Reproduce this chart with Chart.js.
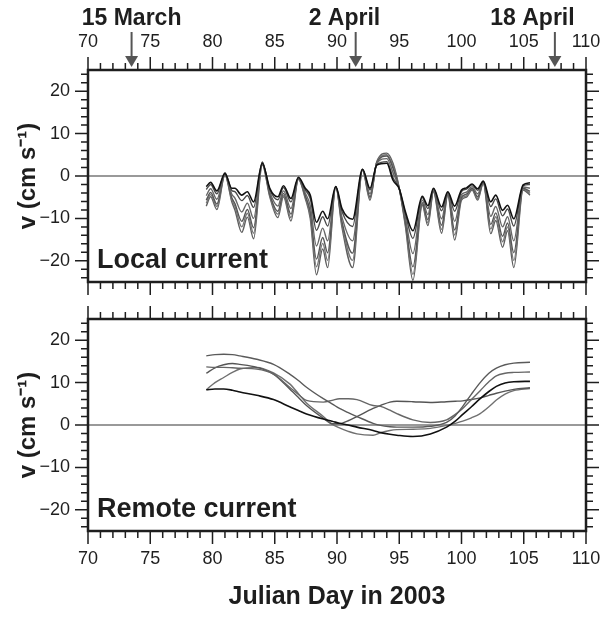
<!DOCTYPE html>
<html>
<head>
<meta charset="utf-8">
<script src="https://cdn.jsdelivr.net/npm/chart.js@4.4.1/dist/chart.umd.min.js"></script>
<style>
  html, body { margin: 0; padding: 0; background: #fff; }
  #wrap { position: relative; width: 605px; height: 619px; }
  .panel { position: absolute; left: 0; }
  #topBox { top: 0; }
  #botBox { top: 300px; }
</style>
</head>
<body>
<div id="wrap">
  <div class="panel" id="topBox"><canvas id="localChart" width="605" height="300"></canvas></div>
  <div class="panel" id="botBox"><canvas id="remoteChart" width="605" height="319"></canvas></div>
</div>
<script>
// ---- data ----
const xTicks = [70, 75, 80, 85, 90, 95, 100, 105, 110];
const yTicks = [-20, -10, 0, 10, 20];
const arrowDays = [73.5, 91.5, 107.5];
const dateLabels = ['15 March', '2 April', '18 April'];
const dateLabelDays = [73.5, 90.6, 105.7];

// local current, 6 series
const localDays = [79.5, 79.85, 80.35, 81.0, 81.55, 81.8, 82.35, 82.8, 83.3, 84.0, 84.6, 85.25, 85.7, 86.3, 86.9, 87.45, 87.85, 88.35, 88.85, 89.25, 89.9, 90.4, 91.25, 92.05, 92.65, 93.2, 94.0, 94.5, 95.0, 95.5, 96.1, 96.85, 97.3, 97.75, 98.4, 98.9, 99.45, 100.0, 100.4, 100.85, 101.3, 101.75, 102.35, 102.75, 103.3, 103.7, 104.2, 104.95, 105.5];
const local1 = [-2.5, -1.5, -3.5, 0.6, -2.9, -2.9, -4.5, -3.7, -6.1, 3.0, -2.9, -4.9, -2.3, -5.3, -0.3, -2.9, -4.5, -10.9, -8.3, -10.1, -2.5, -7.7, -10.2, 1.6, -2.9, 2.6, 3.0, -1.0, -3.0, -8.5, -12.9, -4.8, -7.0, -2.9, -7.3, -3.7, -7.1, -3.3, -2.8, -1.9, -3.0, -1.2, -6.1, -4.5, -8.1, -6.9, -10.1, -2.1, -1.6];
const local2 = [-3.2, -2.0, -4.2, 0.8, -3.4, -3.7, -5.8, -4.6, -7.4, 3.2, -3.2, -5.6, -2.7, -6.1, -0.4, -3.3, -5.3, -12.8, -9.6, -11.8, -2.5, -8.4, -11.9, 1.6, -3.3, 2.7, 3.4, -0.4, -3.0, -9.0, -14.7, -5.1, -7.7, -3.0, -8.2, -3.8, -8.3, -3.7, -3.1, -2.1, -3.4, -1.3, -7.2, -5.4, -9.4, -7.8, -11.8, -2.3, -2.0];
const local3 = [-4.6, -3.0, -5.5, 0.5, -4.3, -5.2, -8.5, -6.4, -10.0, 2.8, -3.8, -7.1, -3.5, -7.7, -0.5, -4.0, -7.0, -16.5, -12.3, -15.3, -2.5, -9.7, -15.3, 1.5, -4.2, 3.0, 4.1, 0.8, -3.0, -10.0, -18.3, -5.7, -9.1, -3.3, -10.1, -4.1, -10.7, -4.4, -3.8, -2.5, -4.2, -1.4, -9.5, -7.2, -12.0, -9.6, -15.3, -2.6, -2.9];
const local4 = [-5.7, -3.9, -6.6, 0.4, -5.1, -6.5, -10.7, -7.9, -12.2, 3.3, -4.3, -8.3, -4.1, -9.0, -0.6, -4.6, -8.4, -19.6, -14.5, -18.1, -2.5, -10.8, -18.2, 1.5, -4.9, 3.2, 4.7, 1.8, -2.9, -11.0, -21.4, -6.3, -10.3, -3.5, -11.6, -4.3, -12.7, -5.0, -4.3, -2.9, -4.9, -1.6, -11.4, -8.7, -14.2, -11.1, -18.1, -2.9, -3.6];
const local5 = [-6.4, -4.4, -7.2, 0.3, -5.6, -7.2, -12.0, -8.8, -13.5, 2.9, -4.6, -9.0, -4.5, -9.8, -0.7, -4.9, -9.2, -21.4, -15.9, -19.9, -2.5, -11.4, -19.9, 1.4, -5.3, 3.3, 5.0, 2.4, -2.9, -11.5, -23.2, -6.6, -11.0, -3.6, -12.6, -4.4, -13.9, -5.3, -4.7, -3.1, -5.3, -1.6, -12.5, -9.6, -15.5, -12.0, -19.9, -3.1, -4.1];
const local6 = [-7.1, -4.9, -7.9, 0.2, -6.1, -8.0, -13.3, -9.7, -14.8, 2.6, -4.9, -9.8, -4.9, -10.6, -0.8, -5.3, -10.0, -23.3, -17.2, -21.6, -2.5, -12.1, -21.6, 1.4, -5.7, 3.4, 5.4, 3.0, -2.9, -12.0, -24.6, -6.9, -11.7, -3.7, -13.5, -4.5, -15.1, -5.7, -5.0, -3.3, -5.7, -1.7, -13.6, -10.5, -16.8, -12.9, -21.6, -3.3, -4.5];

// remote current, 5 series
const remoteDays = [79.5, 80.2, 80.9, 81.6, 82.2, 83.55, 84.9, 86.2, 86.9, 87.55, 88.9, 89.6, 90.2, 90.9, 91.6, 92.9, 93.5, 94.25, 94.8, 96.1, 97.5, 98.8, 99.5, 100.1, 100.8, 101.5, 102.2, 102.8, 103.5, 104.2, 105.5];
const remote1 = [8.3, 8.5, 8.5, 8.2, 7.8, 7.0, 6.0, 4.3, 3.4, 2.6, 1.4, 0.9, 0.4, 0.0, -0.5, -1.3, -1.8, -2.2, -2.4, -2.7, -2.1, -0.5, 0.9, 2.5, 4.3, 6.2, 7.9, 9.1, 9.9, 10.2, 10.3];
const remote2 = [16.3, 16.6, 16.7, 16.6, 16.3, 15.5, 14.3, 12.0, 10.5, 8.9, 6.2, 5.0, 3.9, 2.9, 2.0, 0.4, -0.1, -0.4, -0.5, -0.5, -0.3, 0.6, 2.2, 4.4, 7.3, 10.0, 12.2, 13.4, 14.2, 14.6, 14.8];
const remote3 = [13.7, 13.6, 13.6, 13.5, 13.4, 13.2, 12.0, 8.9, 7.2, 5.8, 5.4, 5.8, 6.2, 6.2, 6.0, 4.6, 4.4, 3.5, 2.7, 1.2, 0.6, 1.2, 2.5, 3.9, 6.0, 8.1, 10.2, 11.6, 12.2, 12.4, 12.5];
const remote4 = [12.2, 13.5, 14.2, 14.5, 14.3, 13.6, 12.0, 8.5, 6.5, 4.6, 1.6, 0.3, 0.3, 1.0, 2.0, 3.9, 4.6, 5.4, 5.6, 5.5, 5.3, 5.5, 5.6, 5.7, 6.0, 6.4, 7.0, 7.5, 8.0, 8.4, 8.8];
const remote5 = [8.3, 10.0, 11.2, 12.4, 13.2, 13.6, 12.3, 9.7, 7.4, 5.2, 2.0, 0.2, -0.7, -1.5, -2.1, -2.4, -1.8, -1.3, -1.1, -1.0, -0.8, -0.1, 0.4, 0.9, 1.7, 2.7, 4.3, 5.9, 7.3, 8.1, 8.6];

const FONT = '"Liberation Sans", Arial, Helvetica, sans-serif';
const INK = '#1e1e1e';

function toPoints(days, vals) {
    return days.map((d, i) => ({ x: d, y: vals[i] }));
}

function lineSet(days, vals, color, width) {
    return {
        data: toPoints(days, vals),
        borderColor: color,
        borderWidth: width,
        pointRadius: 0,
        fill: false,
        cubicInterpolationMode: 'monotone'
    };
}

function minus(v) {
    return String(v).replace('-', '\u2212');
}

// frame, zero line, outward ticks and the panel name
const panelDecor = {
    id: 'panelDecor',
    beforeDatasetsDraw(chart) {
        const { ctx, chartArea: a, scales: { y } } = chart;
        const y0 = y.getPixelForValue(0);
        ctx.save();
        ctx.strokeStyle = '#777';
        ctx.lineWidth = 1.5;
        ctx.beginPath();
        ctx.moveTo(a.left, y0);
        ctx.lineTo(a.right, y0);
        ctx.stroke();
        ctx.restore();
    },
    afterDraw(chart, args, opts) {
        const { ctx, chartArea: a, scales: { x, y } } = chart;
        ctx.save();
        ctx.strokeStyle = INK;
        ctx.lineWidth = 1.5;
        ctx.beginPath();
        for (let d = 70; d <= 110; d++) {
            const px = x.getPixelForValue(d);
            const len = d % 5 === 0 ? 13 : 7;
            ctx.moveTo(px, a.top);
            ctx.lineTo(px, a.top - len);
            ctx.moveTo(px, a.bottom);
            ctx.lineTo(px, a.bottom + len);
        }
        for (let v = -24; v <= 24; v += 2) {
            const py = y.getPixelForValue(v);
            const len = v % 10 === 0 ? 13 : 7;
            ctx.moveTo(a.left, py);
            ctx.lineTo(a.left - len, py);
            ctx.moveTo(a.right, py);
            ctx.lineTo(a.right + len, py);
        }
        ctx.stroke();
        ctx.lineWidth = 2.5;
        ctx.strokeRect(a.left, a.top, a.right - a.left, a.bottom - a.top);

        ctx.fillStyle = INK;
        ctx.font = 'bold 27px ' + FONT;
        ctx.textAlign = 'left';
        ctx.textBaseline = 'alphabetic';
        ctx.fillText(opts.label, a.left + 9, a.bottom - 14);
        ctx.restore();
    }
};

// date arrows above the top panel
const dateArrows = {
    id: 'dateArrows',
    afterDraw(chart) {
        const { ctx, scales: { x } } = chart;
        ctx.save();
        arrowDays.forEach((d, i) => {
            const px = x.getPixelForValue(d);
            ctx.strokeStyle = '#555';
            ctx.fillStyle = '#555';
            ctx.lineWidth = 2;
            ctx.beginPath();
            ctx.moveTo(px, 32);
            ctx.lineTo(px, 57);
            ctx.stroke();
            ctx.beginPath();
            ctx.moveTo(px - 6.5, 56);
            ctx.lineTo(px + 6.5, 56);
            ctx.lineTo(px, 67);
            ctx.closePath();
            ctx.fill();

            ctx.fillStyle = INK;
            ctx.font = 'bold 23px ' + FONT;
            ctx.textAlign = 'center';
            ctx.textBaseline = 'alphabetic';
            ctx.fillText(dateLabels[i], x.getPixelForValue(dateLabelDays[i]), 25);
        });
        ctx.restore();
    }
};

function yScale() {
    return {
        type: 'linear',
        min: -25,
        max: 25,
        afterFit: s => { s.width = 88; },
        afterBuildTicks: s => { s.ticks = yTicks.map(v => ({ value: v })); },
        grid: { display: false, drawTicks: true, tickLength: 12 },
        border: { display: false },
        ticks: {
            padding: 6,
            color: INK,
            font: { size: 18, family: FONT },
            callback: v => minus(v)
        },
        title: {
            display: true,
            text: 'v (cm s\u207B\u00B9)',
            color: INK,
            font: { size: 24, weight: 'bold', family: FONT },
            padding: { top: 14, bottom: 0 }
        }
    };
}

function xScale(position, height, title) {
    return {
        type: 'linear',
        position: position,
        min: 70,
        max: 110,
        afterFit: s => { s.height = height; },
        afterBuildTicks: s => { s.ticks = xTicks.map(v => ({ value: v })); },
        grid: { display: false, drawTicks: true, tickLength: 13 },
        border: { display: false },
        ticks: {
            padding: 4,
            maxRotation: 0,
            color: INK,
            font: { size: 18, family: FONT }
        },
        title: {
            display: !!title,
            text: title || '',
            color: INK,
            font: { size: 25, weight: 'bold', family: FONT },
            padding: { top: 0, bottom: 7 }
        }
    };
}

const commonPlugins = {
    legend: { display: false },
    tooltip: { enabled: false }
};

new Chart(document.getElementById('localChart'), {
    type: 'line',
    data: {
        datasets: [
            lineSet(localDays, local1, '#111', 1.6),
            lineSet(localDays, local2, '#4a4a4a', 1.4),
            lineSet(localDays, local3, '#666', 1.4),
            lineSet(localDays, local4, '#555', 1.4),
            lineSet(localDays, local5, '#777', 1.4),
            lineSet(localDays, local6, '#5e5e5e', 1.4)
        ]
    },
    options: {
        responsive: false,
        animation: false,
        layout: { padding: { left: 0, top: 0, right: 19, bottom: 18 } },
        scales: {
            x: xScale('top', 70),
            y: yScale()
        },
        plugins: Object.assign({ panelDecor: { label: 'Local current' } }, commonPlugins)
    },
    plugins: [panelDecor, dateArrows]
});

new Chart(document.getElementById('remoteChart'), {
    type: 'line',
    data: {
        datasets: [
            lineSet(remoteDays, remote1, '#111', 1.6),
            lineSet(remoteDays, remote2, '#5a5a5a', 1.4),
            lineSet(remoteDays, remote3, '#666', 1.4),
            lineSet(remoteDays, remote4, '#555', 1.4),
            lineSet(remoteDays, remote5, '#707070', 1.4)
        ]
    },
    options: {
        responsive: false,
        animation: false,
        layout: { padding: { left: 0, top: 19, right: 19, bottom: 0 } },
        scales: {
            x: xScale('bottom', 88, 'Julian Day in 2003'),
            y: yScale()
        },
        plugins: Object.assign({ panelDecor: { label: 'Remote current' } }, commonPlugins)
    },
    plugins: [panelDecor]
});
</script>
</body>
</html>
